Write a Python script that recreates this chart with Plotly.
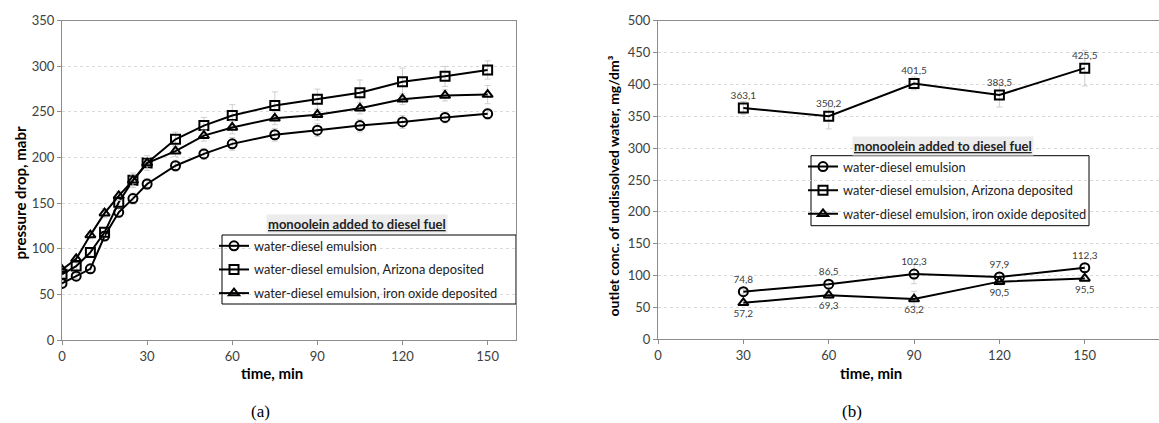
import plotly.graph_objects as go

# ---------------- data (a) ----------------
time_a = [0, 5, 10, 15, 20, 25, 30, 40, 50, 60, 75, 90, 105, 120, 135, 150]
emul_a = [62, 70, 78, 114, 140, 155, 171, 191, 204, 215, 225, 230, 235, 239, 244, 248]
arizona_a = [72, 81, 96, 118, 151, 175, 194, 220, 235, 246, 257, 264, 271, 283, 289, 296]
iron_a = [77, 89, 115, 139, 158, 175, 194, 207, 224, 233, 243, 247, 254, 264, 268, 269]
emul_a_err = [3, 3, 4, 5, 5, 6, 6, 6, 6, 7, 7, 7, 7, 7, 6, 6]
arizona_a_err = [3, 4, 4, 5, 6, 8, 8, 8, 9, 12, 15, 11, 14, 15, 11, 10]
iron_a_err = [3, 3, 4, 5, 5, 6, 6, 6, 6, 7, 7, 6, 6, 6, 6, 10]

# ---------------- data (b) ----------------
time_b = [30, 60, 90, 120, 150]
emul_b = [74.8, 86.5, 102.3, 97.9, 112.3]
arizona_b = [363.1, 350.2, 401.5, 383.5, 425.5]
iron_b = [57.2, 69.3, 63.2, 90.5, 95.5]
emul_b_err = [4, 5, 15, 6, 6]
arizona_b_err = [10, 20, 10, 19, 28]
iron_b_err = [4, 5, 12, 5, 5]

names = ["water-diesel emulsion",
         "water-diesel emulsion, Arizona deposited",
         "water-diesel emulsion, iron oxide deposited"]
symbols = ["circle-open", "square-open", "triangle-up-open"]

W, H = 1159, 423
FONT = "Lato"
TICK_COLOR = "#404040"

def px_x(p):
    return p / W

def px_y(p):
    return 1 - p / H

fig = go.Figure()

err_style = dict(type="data", color="#cfcfcf", thickness=1, width=3, visible=True)

for i, (ys, errs) in enumerate([(emul_a, emul_a_err), (arizona_a, arizona_a_err), (iron_a, iron_a_err)]):
    fig.add_trace(go.Scatter(
        x=time_a, y=ys, name=names[i], mode="lines+markers",
        line=dict(color="black", width=2),
        marker=dict(symbol=symbols[i], size=9, color="black", line=dict(width=2)),
        error_y=dict(array=errs, **err_style),
        xaxis="x", yaxis="y", legend="legend", legendgroup=f"a{i}",
    ))

pos_b = ["top center", "top center", "bottom center"]
for i, (ys, errs) in enumerate([(emul_b, emul_b_err), (arizona_b, arizona_b_err), (iron_b, iron_b_err)]):
    fig.add_trace(go.Scatter(
        x=time_b, y=ys, name=names[i], mode="lines+markers+text",
        text=[f"{v:.1f}".replace(".", ",") for v in ys],
        textposition=pos_b[i],
        textfont=dict(family=FONT, size=10, color="#404040"),
        line=dict(color="black", width=2),
        marker=dict(symbol=symbols[i], size=9, color="black", line=dict(width=2)),
        error_y=dict(array=errs, **err_style),
        xaxis="x2", yaxis="y2", legend="legend2", legendgroup=f"b{i}",
    ))

axis_common = dict(
    showline=True, linecolor="#8c8c8c", linewidth=1,
    ticks="outside", ticklen=4, tickcolor="#8c8c8c",
    tickfont=dict(family=FONT, size=13, color=TICK_COLOR),
    zeroline=False, automargin=False,
)

legend_common = dict(
    bgcolor="rgba(0,0,0,0)", borderwidth=0,
    font=dict(family=FONT, size=12.8, color="#222222"),
    xanchor="left", yanchor="top", tracegroupgap=4,
    itemwidth=30,
)

grid = dict(showgrid=True, gridcolor="#d9d9d9", griddash="dot", gridwidth=1)

fig.update_layout(
    width=W, height=H,
    margin=dict(l=0, r=0, t=0, b=0, autoexpand=False),
    paper_bgcolor="white", plot_bgcolor="white",
    xaxis=dict(domain=[px_x(62), px_x(516)], range=[0, 160], tickvals=[0, 30, 60, 90, 120, 150],
               showgrid=False, mirror=True, anchor="y", **axis_common),
    yaxis=dict(domain=[px_y(340), px_y(20.7)], range=[0, 350], dtick=50,
               mirror=True, anchor="x", **grid, **axis_common),
    xaxis2=dict(domain=[px_x(658), 1.0], range=[0, 176.1], tickvals=[0, 30, 60, 90, 120, 150],
                showgrid=False, mirror=True, anchor="y2", **axis_common),
    yaxis2=dict(domain=[px_y(339.3), px_y(20.7)], range=[0, 500], dtick=50,
                mirror=False, anchor="x2", **grid, **axis_common),
    legend=dict(x=px_x(214), y=px_y(231), **legend_common),
    legend2=dict(x=px_x(803), y=px_y(151.7), **legend_common),
    showlegend=True,
)

# legend frames
fig.add_shape(type="rect", xref="paper", yref="paper",
              x0=px_x(222), x1=px_x(516), y0=px_y(304), y1=px_y(235),
              line=dict(color="black", width=1), fillcolor="white", layer="below")
fig.add_shape(type="rect", xref="paper", yref="paper",
              x0=px_x(811), x1=px_x(1089), y0=px_y(225.7), y1=px_y(155.7),
              line=dict(color="black", width=1), fillcolor="white", layer="below")

def ann(x, y, text, font, **kw):
    d = dict(x=px_x(x), y=px_y(y), xref="paper", yref="paper", showarrow=False,
             xanchor="center", yanchor="middle", text=text, font=font)
    d.update(kw)
    return d

anns = []
for xc, yc in [(357, 224), (943, 146)]:
    anns.append(ann(xc, yc, "<b><u>monoolein added to diesel fuel</u></b>",
                    dict(family=FONT, size=13, color="#222222"),
                    bgcolor="#ececec", borderpad=1))
anns.append(ann(271.5, 373, "<b>time, min</b>", dict(family=FONT, size=15, color="black")))
anns.append(ann(871, 373, "<b>time, min</b>", dict(family=FONT, size=15, color="black")))
anns.append(ann(20, 193.5, "<b>pressure drop, mabr</b>", dict(family=FONT, size=15, color="black"),
                textangle=-90))
anns.append(ann(613, 186.5, "<b>outlet conc. of undissolved water, mg/dm³</b>",
                dict(family=FONT, size=14, color="black"), textangle=-90))
anns.append(ann(260, 411, "(a)", dict(family="Liberation Serif", size=17, color="black")))
anns.append(ann(852, 411, "(b)", dict(family="Liberation Serif", size=17, color="black")))
fig.update_layout(annotations=anns)

fig.write_html("out.html", config={"displayModeBar": False},
               post_script="document.body.style.margin='0px';")
